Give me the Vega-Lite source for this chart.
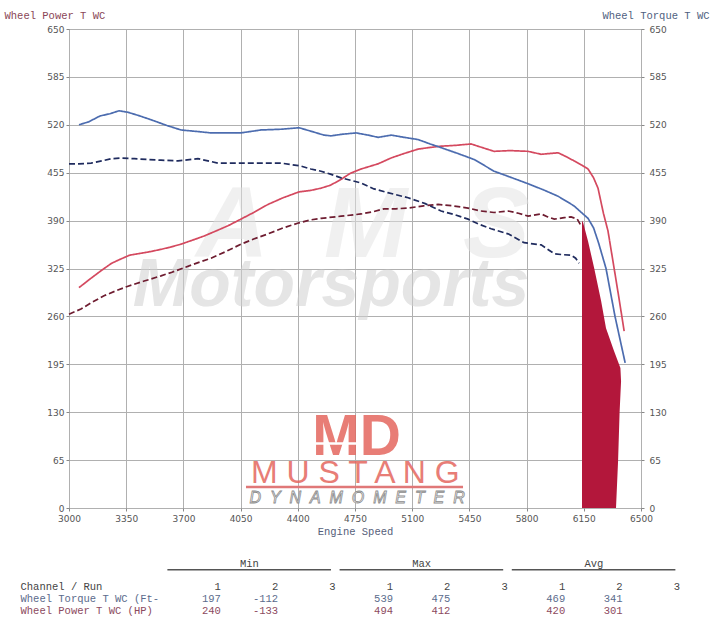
{
  "$schema": "https://vega.github.io/schema/vega-lite/v6.json",
  "background": "white",
  "padding": {"left": 3, "top": 9, "right": 0, "bottom": 0},
  "bounds": "flush",
  "spacing": 50,
  "config": {
    "view": {"stroke": null},
    "font": "DejaVu Sans"
  },
  "datasets": {
    "power": [
      {"series":"P1","rpm":3061,"value":299},{"series":"P1","rpm":3130,"value":311},{"series":"P1","rpm":3196,"value":322},{"series":"P1","rpm":3260,"value":332},{"series":"P1","rpm":3318,"value":338},{"series":"P1","rpm":3370,"value":343},{"series":"P1","rpm":3422,"value":345},{"series":"P1","rpm":3500,"value":348},{"series":"P1","rpm":3563,"value":351},{"series":"P1","rpm":3620,"value":354},{"series":"P1","rpm":3685,"value":358},{"series":"P1","rpm":3750,"value":363},{"series":"P1","rpm":3826,"value":369},{"series":"P1","rpm":3900,"value":376},{"series":"P1","rpm":3973,"value":383},{"series":"P1","rpm":4052,"value":392},{"series":"P1","rpm":4130,"value":401},{"series":"P1","rpm":4218,"value":412},{"series":"P1","rpm":4310,"value":421},{"series":"P1","rpm":4408,"value":429},{"series":"P1","rpm":4480,"value":431},{"series":"P1","rpm":4542,"value":434},{"series":"P1","rpm":4600,"value":438},{"series":"P1","rpm":4665,"value":446},{"series":"P1","rpm":4720,"value":454},{"series":"P1","rpm":4787,"value":460},{"series":"P1","rpm":4891,"value":467},{"series":"P1","rpm":4971,"value":475},{"series":"P1","rpm":5050,"value":481},{"series":"P1","rpm":5136,"value":487},{"series":"P1","rpm":5200,"value":489},{"series":"P1","rpm":5277,"value":491},{"series":"P1","rpm":5360,"value":492},{"series":"P1","rpm":5460,"value":494},{"series":"P1","rpm":5530,"value":489},{"series":"P1","rpm":5601,"value":484},{"series":"P1","rpm":5700,"value":485},{"series":"P1","rpm":5809,"value":484},{"series":"P1","rpm":5889,"value":480},{"series":"P1","rpm":5940,"value":481},{"series":"P1","rpm":5993,"value":482},{"series":"P1","rpm":6040,"value":477},{"series":"P1","rpm":6091,"value":471},{"series":"P1","rpm":6140,"value":465},{"series":"P1","rpm":6176,"value":460},{"series":"P1","rpm":6210,"value":448},{"series":"P1","rpm":6237,"value":434},{"series":"P1","rpm":6270,"value":400},{"series":"P1","rpm":6298,"value":376},{"series":"P1","rpm":6335,"value":326},{"series":"P1","rpm":6365,"value":285},{"series":"P1","rpm":6397,"value":240},
      {"series":"P2","rpm":3000,"value":263},{"series":"P2","rpm":3073,"value":270},{"series":"P2","rpm":3140,"value":279},{"series":"P2","rpm":3214,"value":288},{"series":"P2","rpm":3290,"value":295},{"series":"P2","rpm":3361,"value":301},{"series":"P2","rpm":3460,"value":308},{"series":"P2","rpm":3563,"value":315},{"series":"P2","rpm":3630,"value":320},{"series":"P2","rpm":3704,"value":326},{"series":"P2","rpm":3790,"value":333},{"series":"P2","rpm":3869,"value":339},{"series":"P2","rpm":3960,"value":348},{"series":"P2","rpm":4052,"value":358},{"series":"P2","rpm":4130,"value":365},{"series":"P2","rpm":4218,"value":372},{"series":"P2","rpm":4310,"value":380},{"series":"P2","rpm":4408,"value":387},{"series":"P2","rpm":4480,"value":391},{"series":"P2","rpm":4542,"value":393},{"series":"P2","rpm":4665,"value":396},{"series":"P2","rpm":4787,"value":399},{"series":"P2","rpm":4860,"value":402},{"series":"P2","rpm":4928,"value":406},{"series":"P2","rpm":5000,"value":406},{"series":"P2","rpm":5075,"value":407},{"series":"P2","rpm":5170,"value":410},{"series":"P2","rpm":5258,"value":412},{"series":"P2","rpm":5350,"value":410},{"series":"P2","rpm":5442,"value":407},{"series":"P2","rpm":5520,"value":403},{"series":"P2","rpm":5601,"value":401},{"series":"P2","rpm":5687,"value":403},{"series":"P2","rpm":5750,"value":400},{"series":"P2","rpm":5809,"value":396},{"series":"P2","rpm":5889,"value":399},{"series":"P2","rpm":5930,"value":395},{"series":"P2","rpm":5970,"value":392},{"series":"P2","rpm":6030,"value":394},{"series":"P2","rpm":6072,"value":395},{"series":"P2","rpm":6110,"value":392},{"series":"P2","rpm":6133,"value":383}
    ],
    "torque": [
      {"series":"T1","rpm":3061,"value":520},{"series":"T1","rpm":3120,"value":524},{"series":"T1","rpm":3190,"value":532},{"series":"T1","rpm":3250,"value":535},{"series":"T1","rpm":3306,"value":539},{"series":"T1","rpm":3360,"value":537},{"series":"T1","rpm":3420,"value":533},{"series":"T1","rpm":3500,"value":527},{"series":"T1","rpm":3600,"value":519},{"series":"T1","rpm":3685,"value":513},{"series":"T1","rpm":3780,"value":511},{"series":"T1","rpm":3869,"value":509},{"series":"T1","rpm":3960,"value":509},{"series":"T1","rpm":4052,"value":509},{"series":"T1","rpm":4175,"value":513},{"series":"T1","rpm":4300,"value":514},{"series":"T1","rpm":4408,"value":516},{"series":"T1","rpm":4500,"value":510},{"series":"T1","rpm":4560,"value":506},{"series":"T1","rpm":4603,"value":505},{"series":"T1","rpm":4665,"value":507},{"series":"T1","rpm":4756,"value":509},{"series":"T1","rpm":4830,"value":506},{"series":"T1","rpm":4891,"value":503},{"series":"T1","rpm":4971,"value":506},{"series":"T1","rpm":5050,"value":503},{"series":"T1","rpm":5136,"value":500},{"series":"T1","rpm":5210,"value":494},{"series":"T1","rpm":5277,"value":489},{"series":"T1","rpm":5380,"value":481},{"series":"T1","rpm":5478,"value":473},{"series":"T1","rpm":5540,"value":465},{"series":"T1","rpm":5601,"value":457},{"series":"T1","rpm":5700,"value":449},{"series":"T1","rpm":5809,"value":440},{"series":"T1","rpm":5900,"value":432},{"series":"T1","rpm":5993,"value":423},{"series":"T1","rpm":6090,"value":410},{"series":"T1","rpm":6176,"value":393},{"series":"T1","rpm":6210,"value":380},{"series":"T1","rpm":6240,"value":360},{"series":"T1","rpm":6286,"value":325},{"series":"T1","rpm":6341,"value":260},{"series":"T1","rpm":6403,"value":197},
      {"series":"T2","rpm":3000,"value":467},{"series":"T2","rpm":3060,"value":467},{"series":"T2","rpm":3135,"value":468},{"series":"T2","rpm":3200,"value":471},{"series":"T2","rpm":3260,"value":474},{"series":"T2","rpm":3318,"value":475},{"series":"T2","rpm":3400,"value":474},{"series":"T2","rpm":3480,"value":473},{"series":"T2","rpm":3563,"value":472},{"series":"T2","rpm":3667,"value":471},{"series":"T2","rpm":3789,"value":474},{"series":"T2","rpm":3850,"value":471},{"series":"T2","rpm":3912,"value":468},{"series":"T2","rpm":4000,"value":468},{"series":"T2","rpm":4095,"value":468},{"series":"T2","rpm":4200,"value":468},{"series":"T2","rpm":4297,"value":468},{"series":"T2","rpm":4360,"value":466},{"series":"T2","rpm":4420,"value":464},{"series":"T2","rpm":4480,"value":460},{"series":"T2","rpm":4542,"value":457},{"series":"T2","rpm":4600,"value":453},{"series":"T2","rpm":4665,"value":448},{"series":"T2","rpm":4787,"value":441},{"series":"T2","rpm":4866,"value":433},{"series":"T2","rpm":4950,"value":428},{"series":"T2","rpm":5075,"value":421},{"series":"T2","rpm":5180,"value":413},{"series":"T2","rpm":5277,"value":403},{"series":"T2","rpm":5360,"value":398},{"series":"T2","rpm":5442,"value":392},{"series":"T2","rpm":5510,"value":385},{"series":"T2","rpm":5583,"value":379},{"series":"T2","rpm":5687,"value":372},{"series":"T2","rpm":5785,"value":360},{"series":"T2","rpm":5889,"value":357},{"series":"T2","rpm":5970,"value":345},{"series":"T2","rpm":6010,"value":344},{"series":"T2","rpm":6072,"value":343},{"series":"T2","rpm":6100,"value":339},{"series":"T2","rpm":6121,"value":332}
    ],
    "fill": [
      {"value":0,"rpm":6347},{"value":65,"rpm":6360},{"value":130,"rpm":6369},{"value":172,"rpm":6378},{"value":190,"rpm":6374},{"value":213,"rpm":6335},{"value":244,"rpm":6286},{"value":281,"rpm":6256},{"value":326,"rpm":6213},{"value":362,"rpm":6176},{"value":387,"rpm":6146},{"value":390,"rpm":6139}
    ],
    "cells": [
      {"row":"Channel / Run","col":"min1","txt":"1"},{"row":"Channel / Run","col":"min2","txt":"2"},{"row":"Channel / Run","col":"min3","txt":"3"},
      {"row":"Channel / Run","col":"max1","txt":"1"},{"row":"Channel / Run","col":"max2","txt":"2"},{"row":"Channel / Run","col":"max3","txt":"3"},
      {"row":"Channel / Run","col":"avg1","txt":"1"},{"row":"Channel / Run","col":"avg2","txt":"2"},{"row":"Channel / Run","col":"avg3","txt":"3"},
      {"row":"Wheel Torque T WC (Ft-","col":"min1","txt":"197"},{"row":"Wheel Torque T WC (Ft-","col":"min2","txt":"-112"},
      {"row":"Wheel Torque T WC (Ft-","col":"max1","txt":"539"},{"row":"Wheel Torque T WC (Ft-","col":"max2","txt":"475"},
      {"row":"Wheel Torque T WC (Ft-","col":"avg1","txt":"469"},{"row":"Wheel Torque T WC (Ft-","col":"avg2","txt":"341"},
      {"row":"Wheel Power T WC (HP)","col":"min1","txt":"240"},{"row":"Wheel Power T WC (HP)","col":"min2","txt":"-133"},
      {"row":"Wheel Power T WC (HP)","col":"max1","txt":"494"},{"row":"Wheel Power T WC (HP)","col":"max2","txt":"412"},
      {"row":"Wheel Power T WC (HP)","col":"avg1","txt":"420"},{"row":"Wheel Power T WC (HP)","col":"avg2","txt":"301"}
    ],
    "headers": [
      {"row":"head","col":"min2","txt":"Min","c1":"min1","c2":"min3"},
      {"row":"head","col":"max2","txt":"Max","c1":"max1","c2":"max3"},
      {"row":"head","col":"avg2","txt":"Avg","c1":"avg1","c2":"avg3"}
    ]
  },
  "vconcat": [
    {
      "width": 572,
      "height": 479,
      "view": {"stroke": "#6a6a6a", "strokeWidth": 1},
      "resolve": {"axis": {"y": "independent"}},
      "layer": [
        {
          "data": {"values": [{}]},
          "mark": {"type": "text", "text": "A\u00a0\u00a0M\u00a0\u00a0S", "font": "Liberation Sans", "fontSize": 100, "fontWeight": "bold", "fontStyle": "italic", "color": "#e2e2e2", "opacity": 0.5, "align": "center", "baseline": "alphabetic"},
          "encoding": {
            "x": {"datum": 4799, "type": "quantitative", "scale": {"domain": [3000, 6500], "nice": false, "zero": false}},
            "y": {"datum": 341, "type": "quantitative", "scale": {"domain": [0, 650], "nice": false}, "axis": null}
          }
        },
        {
          "data": {"values": [{}]},
          "mark": {"type": "text", "text": "Motorsports", "font": "Liberation Sans", "fontSize": 68, "fontWeight": "bold", "fontStyle": "italic", "color": "#d0d0d0", "opacity": 0.55, "align": "center", "baseline": "alphabetic"},
          "encoding": {
            "x": {"datum": 4603, "type": "quantitative", "scale": {"domain": [3000, 6500], "nice": false, "zero": false}},
            "y": {"datum": 274, "type": "quantitative", "scale": {"domain": [0, 650], "nice": false}, "axis": null}
          }
        },
        {
          "data": {"values": [{}]},
          "mark": {"type": "text", "text": "MD", "font": "Liberation Sans", "fontSize": 57, "fontWeight": "bold", "color": "#e4675f", "opacity": 0.85, "align": "center", "baseline": "alphabetic"},
          "encoding": {
            "x": {"datum": 4760, "type": "quantitative", "scale": {"domain": [3000, 6500], "nice": false, "zero": false}},
            "y": {"datum": 71.5, "type": "quantitative", "scale": {"domain": [0, 650], "nice": false}, "axis": null}
          }
        },
        {
          "data": {"values": [{}]},
          "mark": {"type": "rule", "color": "white", "strokeWidth": 2.5},
          "encoding": {
            "x": {"datum": 4487, "type": "quantitative", "scale": {"domain": [3000, 6500], "nice": false, "zero": false}},
            "x2": {"datum": 4799},
            "y": {"datum": 87.5, "type": "quantitative", "scale": {"domain": [0, 650], "nice": false}, "axis": null}
          }
        },
        {
          "data": {"values": [{}]},
          "mark": {"type": "text", "text": "M U S T A N G", "font": "Liberation Sans", "fontSize": 32, "color": "#e4675f", "opacity": 0.85, "align": "center", "baseline": "alphabetic"},
          "encoding": {
            "x": {"datum": 4752, "type": "quantitative", "scale": {"domain": [3000, 6500], "nice": false, "zero": false}},
            "y": {"datum": 34, "type": "quantitative", "scale": {"domain": [0, 650], "nice": false}, "axis": null}
          }
        },
        {
          "data": {"values": [{}]},
          "mark": {"type": "rule", "color": "#e07878", "strokeWidth": 2.5},
          "encoding": {
            "x": {"datum": 4083, "type": "quantitative", "scale": {"domain": [3000, 6500], "nice": false, "zero": false}},
            "x2": {"datum": 5411},
            "y": {"datum": 28.5, "type": "quantitative", "scale": {"domain": [0, 650], "nice": false}, "axis": null}
          }
        },
        {
          "data": {"values": [{}]},
          "mark": {"type": "text", "text": "D\u00a0\u00a0Y\u00a0\u00a0N\u00a0\u00a0A\u00a0\u00a0M\u00a0\u00a0O\u00a0\u00a0M\u00a0\u00a0E\u00a0\u00a0T\u00a0\u00a0E\u00a0\u00a0R", "font": "Liberation Sans", "fontSize": 16, "fontStyle": "italic", "fill": "white", "stroke": "#8c8c8c", "strokeWidth": 0.8, "align": "center", "baseline": "alphabetic"},
          "encoding": {
            "x": {"datum": 4763, "type": "quantitative", "scale": {"domain": [3000, 6500], "nice": false, "zero": false}},
            "y": {"datum": 6.8, "type": "quantitative", "scale": {"domain": [0, 650], "nice": false}, "axis": null}
          }
        },
        {
          "data": {"name": "fill"},
          "mark": {"type": "area", "orient": "horizontal", "color": "#b3173b", "opacity": 1},
          "encoding": {
            "y": {"field": "value", "type": "quantitative", "scale": {"domain": [0, 650], "nice": false}, "axis": null},
            "x": {"field": "rpm", "type": "quantitative", "scale": {"domain": [3000, 6500], "nice": false, "zero": false},
                  "axis": {"title": "Engine Speed", "values": [3000,3350,3700,4050,4400,4750,5100,5450,5800,6150,6500], "format": "d", "grid": true, "gridColor": "#b0b0b0", "gridWidth": 1, "domain": false, "tickSize": 3, "tickColor": "#888888", "labelPadding": 3, "labelFont": "DejaVu Sans", "labelFontSize": 9, "labelColor": "#555555", "labelFlush": false, "labelOverlap": false, "titleFont": "Liberation Mono", "titleFontSize": 10.5, "titleFontWeight": "normal", "titleColor": "#56607a", "titlePadding": 3}},
            "x2": {"datum": 6139}
          }
        },
        {
          "data": {"name": "power"},
          "mark": {"type": "line", "strokeWidth": 1.7},
          "encoding": {
            "x": {"field": "rpm", "type": "quantitative", "scale": {"domain": [3000, 6500], "nice": false, "zero": false},
                  "axis": {"title": "Engine Speed", "values": [3000,3350,3700,4050,4400,4750,5100,5450,5800,6150,6500], "format": "d", "grid": true, "gridColor": "#b0b0b0", "gridWidth": 1, "domain": false, "tickSize": 3, "tickColor": "#888888", "labelPadding": 3, "labelFont": "DejaVu Sans", "labelFontSize": 9, "labelColor": "#555555", "labelFlush": false, "labelOverlap": false, "titleFont": "Liberation Mono", "titleFontSize": 10.5, "titleFontWeight": "normal", "titleColor": "#56607a", "titlePadding": 3}},
            "y": {"field": "value", "type": "quantitative", "scale": {"domain": [0, 650], "nice": false},
                  "axis": {"orient": "left", "values": [0,65,130,195,260,325,390,455,520,585,650], "format": "d", "title": "Wheel Power T WC", "titleAngle": 0, "titleAlign": "left", "titleBaseline": "middle", "titleX": -65, "titleY": -14, "titleFont": "Liberation Mono", "titleFontSize": 10.5, "titleFontWeight": "normal", "titleColor": "#8a4656", "grid": true, "gridColor": "#b0b0b0", "gridWidth": 1, "domain": false, "tickSize": 3, "tickColor": "#888888", "labelPadding": 2, "labelFont": "DejaVu Sans", "labelFontSize": 9, "labelColor": "#555555", "labelFlush": false, "labelOverlap": false}},
            "color": {"field": "series", "type": "nominal", "scale": {"domain": ["P1","P2","T1","T2"], "range": ["#d4495f","#6e1c30","#4c6caf","#1f2b5e"]}, "legend": null},
            "strokeDash": {"field": "series", "type": "nominal", "scale": {"domain": ["P1","P2","T1","T2"], "range": [[1,0],[6,3],[1,0],[6,3]]}, "legend": null}
          }
        },
        {
          "data": {"name": "torque"},
          "mark": {"type": "line", "strokeWidth": 1.7},
          "encoding": {
            "x": {"field": "rpm", "type": "quantitative", "scale": {"domain": [3000, 6500], "nice": false, "zero": false},
                  "axis": {"title": "Engine Speed", "values": [3000,3350,3700,4050,4400,4750,5100,5450,5800,6150,6500], "format": "d", "grid": true, "gridColor": "#b0b0b0", "gridWidth": 1, "domain": false, "tickSize": 3, "tickColor": "#888888", "labelPadding": 3, "labelFont": "DejaVu Sans", "labelFontSize": 9, "labelColor": "#555555", "labelFlush": false, "labelOverlap": false, "titleFont": "Liberation Mono", "titleFontSize": 10.5, "titleFontWeight": "normal", "titleColor": "#56607a", "titlePadding": 3}},
            "y": {"field": "value", "type": "quantitative", "scale": {"domain": [0, 650], "nice": false},
                  "axis": {"orient": "right", "values": [0,65,130,195,260,325,390,455,520,585,650], "format": "d", "title": "Wheel Torque T WC", "titleAngle": 0, "titleAlign": "right", "titleBaseline": "middle", "titleX": 68, "titleY": -14, "titleFont": "Liberation Mono", "titleFontSize": 10.5, "titleFontWeight": "normal", "titleColor": "#4f5f7f", "grid": false, "domain": false, "tickSize": 3, "tickColor": "#888888", "labelPadding": 5, "labelFont": "DejaVu Sans", "labelFontSize": 9, "labelColor": "#555555", "labelFlush": false, "labelOverlap": false}},
            "color": {"field": "series", "type": "nominal", "scale": {"domain": ["P1","P2","T1","T2"], "range": ["#d4495f","#6e1c30","#4c6caf","#1f2b5e"]}, "legend": null},
            "strokeDash": {"field": "series", "type": "nominal", "scale": {"domain": ["P1","P2","T1","T2"], "range": [[1,0],[6,3],[1,0],[6,3]]}, "legend": null}
          }
        }
      ]
    },
    {
      "width": 615,
      "height": 58.75,
      "view": {"stroke": null},
      "layer": [
        {
          "data": {"name": "cells"},
          "mark": {"type": "text", "align": "right", "dx": -4, "baseline": "middle", "font": "Liberation Mono", "fontSize": 10.5},
          "encoding": {
            "x": {"field": "col", "type": "nominal", "bandPosition": 1, "scale": {"type": "band", "domain": ["min1","min2","min3","max1","max2","max3","avg1","avg2","avg3"], "paddingInner": 0, "paddingOuter": 0.857, "align": 1}, "axis": null},
            "y": {"field": "row", "type": "nominal", "scale": {"type": "band", "domain": ["head","gap","Channel / Run","Wheel Torque T WC (Ft-","Wheel Power T WC (HP)"], "paddingInner": 0, "paddingOuter": 0},
                  "axis": {"title": null, "orient": "left", "ticks": false, "tickSize": 0, "domain": false, "grid": false, "labelAlign": "left", "labelBaseline": "middle", "labelPadding": 49, "labelFont": "Liberation Mono", "labelFontSize": 10.5, "labelLimit": 300, "labelOverlap": false,
                           "labelExpr": "datum.value == 'head' || datum.value == 'gap' ? '' : datum.value",
                           "labelColor": {"condition": [{"test": "datum.value == 'Wheel Power T WC (HP)'", "value": "#8c4a5e"}, {"test": "datum.value == 'Wheel Torque T WC (Ft-'", "value": "#5b6b8c"}], "value": "#444444"}}},
            "text": {"field": "txt"},
            "color": {"condition": [{"test": "datum.row == 'Wheel Power T WC (HP)'", "value": "#8c4a5e"}, {"test": "datum.row == 'Wheel Torque T WC (Ft-'", "value": "#5b6b8c"}], "value": "#444444"}
          }
        },
        {
          "data": {"name": "headers"},
          "mark": {"type": "text", "align": "center", "baseline": "middle", "font": "Liberation Mono", "fontSize": 10.5, "color": "#444444"},
          "encoding": {
            "x": {"field": "col", "type": "nominal", "bandPosition": 0.43, "scale": {"type": "band", "domain": ["min1","min2","min3","max1","max2","max3","avg1","avg2","avg3"], "paddingInner": 0, "paddingOuter": 0.857, "align": 1}, "axis": null},
            "y": {"field": "row", "type": "nominal"},
            "text": {"field": "txt"}
          }
        },
        {
          "data": {"name": "headers"},
          "mark": {"type": "rule", "color": "#555555", "strokeWidth": 1.3},
          "encoding": {
            "x": {"field": "c1", "type": "nominal", "bandPosition": 0, "scale": {"type": "band", "domain": ["min1","min2","min3","max1","max2","max3","avg1","avg2","avg3"], "paddingInner": 0, "paddingOuter": 0.857, "align": 1}, "axis": null},
            "x2": {"field": "c2", "bandPosition": 0.85},
            "y": {"field": "row", "type": "nominal", "bandPosition": 1}
          }
        }
      ]
    }
  ]
}
